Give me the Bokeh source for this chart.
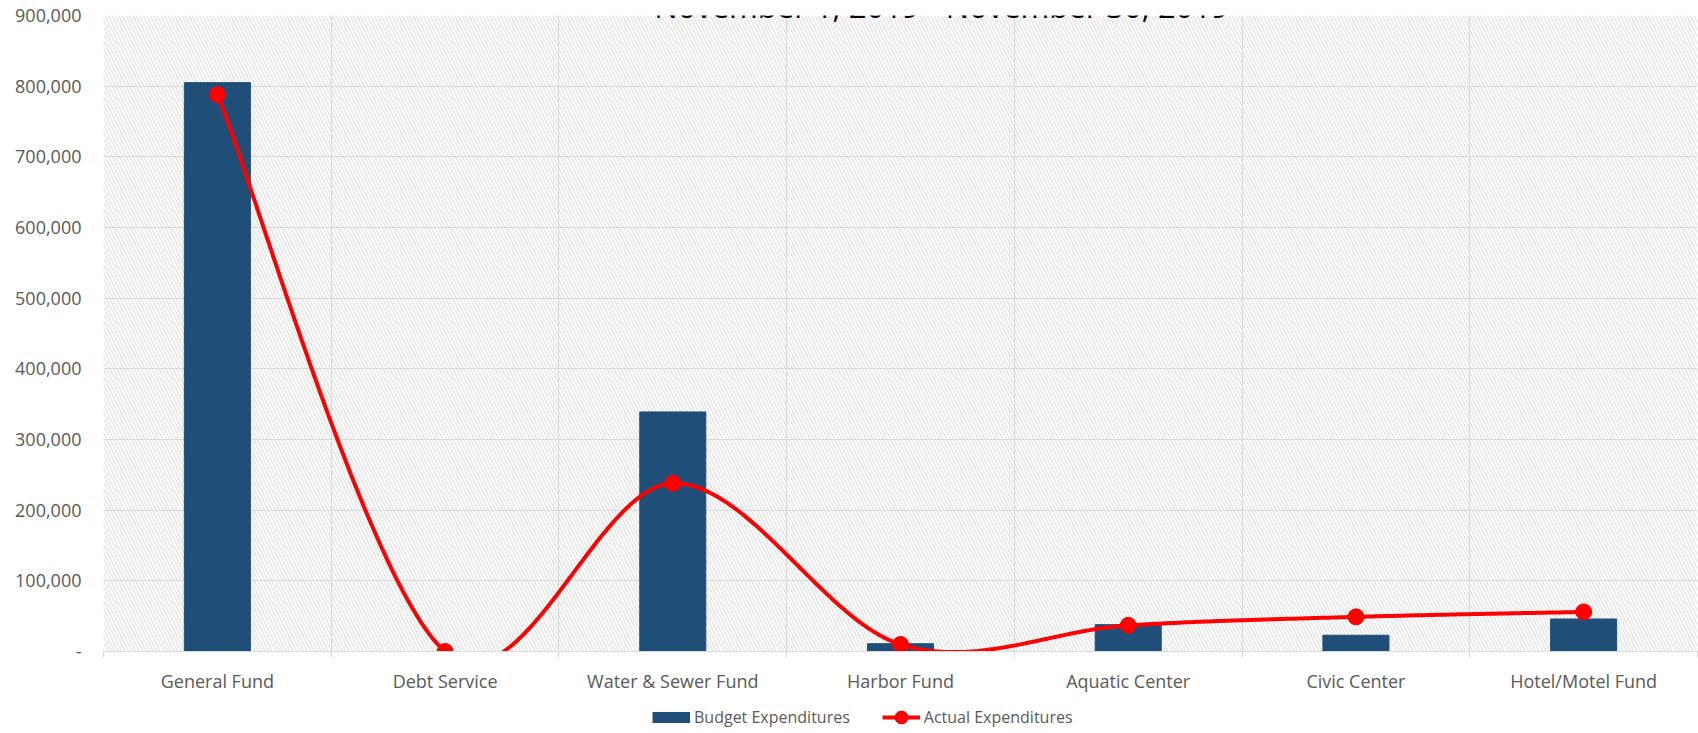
import numpy as np
from bokeh.plotting import figure
from bokeh.layouts import column
from bokeh.models import (ColumnDataSource, Range1d, FixedTicker, NumeralTickFormatter,
                          BoxAnnotation, Legend, LegendItem, Label)
from bokeh.embed import file_html
from bokeh.resources import INLINE

# ---- data -------------------------------------------------------------
title_text = "November 1, 2019 - November 30, 2019"
categories = ["General Fund", "Debt Service", "Water & Sewer Fund", "Harbor Fund",
              "Aquatic Center", "Civic Center", "Hotel/Motel Fund"]
budget = [805000, 0, 339000, 11000, 38000, 23000, 46000]
actual = [788000, 0, 238000, 10000, 37000, 49000, 56000]
y_ticks = [0, 100000, 200000, 300000, 400000, 500000, 600000, 700000, 800000, 900000]
series_names = ["Budget Expenditures", "Actual Expenditures"]

# ---- styling ----------------------------------------------------------
FONT = "Open Sans"
TEXT = "#595959"
GRID = "#d9d9d9"
BAR = "#1F4E79"
RED = "#FF0000"


def smooth_curve(xs, ys, steps=60):
    """Cubic Bezier smoothing through the points (Catmull-Rom style tangents)."""
    pts = np.column_stack([xs, ys]).astype(float)
    n = len(pts)
    segs = []
    t = np.linspace(0.0, 1.0, steps)[:, None]
    for i in range(n - 1):
        p0 = pts[i - 1] if i > 0 else pts[i]
        p1, p2 = pts[i], pts[i + 1]
        p3 = pts[i + 2] if i + 2 < n else pts[i + 1]
        c1 = p1 + (p2 - p0) / 6.0
        c2 = p2 - (p3 - p1) / 6.0
        seg = ((1 - t) ** 3) * p1 + 3 * ((1 - t) ** 2) * t * c1 + 3 * (1 - t) * (t ** 2) * c2 + (t ** 3) * p2
        segs.append(seg if i == 0 else seg[1:])
    out = np.vstack(segs)
    return out[:, 0], out[:, 1]


n = len(categories)
centers = [i + 0.5 for i in range(n)]
bounds = list(range(n + 1))

# ---- main chart -------------------------------------------------------
p = figure(frame_width=1594, frame_height=636,
           x_range=Range1d(0, n), y_range=Range1d(0, y_ticks[-1]),
           output_backend="svg", toolbar_location=None,
           min_border_left=103, min_border_right=1, min_border_top=15, min_border_bottom=46,
           background_fill_color="white", border_fill_color="white",
           outline_line_color=None)

# hatched plot area
p.add_layout(BoxAnnotation(fill_alpha=0, line_color=None, level="underlay",
                           hatch_pattern="left_diagonal_line", hatch_color="#d8d8d8",
                           hatch_scale=7, hatch_weight=1))

xa = p.xaxis[0]
xa.ticker = FixedTicker(ticks=centers, minor_ticks=bounds)
xa.major_label_overrides = {c: lab for c, lab in zip(centers, categories)}
xa.major_tick_line_color = None
xa.major_tick_out = 0
xa.major_tick_in = 0
xa.minor_tick_line_color = GRID
xa.minor_tick_in = 0
xa.minor_tick_out = 6
xa.axis_line_color = GRID
xa.major_label_standoff = 11
xa.major_label_text_font = FONT
xa.major_label_text_font_size = "18px"
xa.major_label_text_color = TEXT

ya = p.yaxis[0]
ya.ticker = FixedTicker(ticks=y_ticks)
ya.formatter = NumeralTickFormatter(format="0,0")
ya.major_label_overrides = {0: "-"}
ya.axis_line_color = None
ya.major_tick_line_color = None
ya.major_tick_out = 0
ya.major_tick_in = 0
ya.minor_tick_line_color = None
ya.major_label_standoff = 22
ya.major_label_text_font = FONT
ya.major_label_text_font_size = "18px"
ya.major_label_text_color = TEXT

p.xgrid.grid_line_color = None
p.xgrid.minor_grid_line_color = GRID
p.ygrid.grid_line_color = GRID

bar_src = ColumnDataSource(dict(x=centers, top=budget))
p.vbar(x="x", top="top", width=0.29, source=bar_src, fill_color=BAR, line_color=BAR)

sx, sy = smooth_curve(centers, actual)
p.line(sx, sy, line_color=RED, line_width=4)
p.scatter(centers, actual, size=16, marker="circle", fill_color=RED, line_color=RED)

# chart title (sits at the very top edge)
p.add_layout(Label(x=n / 2, y=y_ticks[-1], x_offset=41, y_offset=10, text=title_text,
                   text_align="center", text_baseline="alphabetic",
                   text_font=FONT, text_font_size="31px", text_color="black"))

# ---- legend strip -----------------------------------------------------
leg = figure(width=1698, height=36, x_range=Range1d(0, 1), y_range=Range1d(0, 1),
             output_backend="svg", toolbar_location=None,
             min_border=0, x_axis_location=None, y_axis_location=None,
             background_fill_color="white", border_fill_color="white",
             outline_line_color=None)
leg.grid.visible = False

# glyphs that only supply the legend swatches
nan2 = [np.nan, np.nan]
bar_key = leg.line(nan2, nan2, line_color=BAR, line_width=11, line_cap="butt")
act_line = leg.line(nan2, nan2, line_color=RED, line_width=4)
act_dot = leg.scatter(nan2, nan2, size=16, marker="circle", fill_color=RED, line_color=RED)

legend = Legend(items=[LegendItem(label=series_names[0], renderers=[bar_key]),
                       LegendItem(label=series_names[1], renderers=[act_line, act_dot])],
                orientation="horizontal", location=(549, 0),
                glyph_width=38, glyph_height=32, label_height=20, label_standoff=4, spacing=32,
                padding=0, margin=0, border_line_color=None, background_fill_alpha=0,
                label_text_font=FONT, label_text_font_size="16px", label_text_color=TEXT)
leg.add_layout(legend, "center")

open("out.html", "w").write(file_html(column(p, leg, spacing=0), INLINE))
